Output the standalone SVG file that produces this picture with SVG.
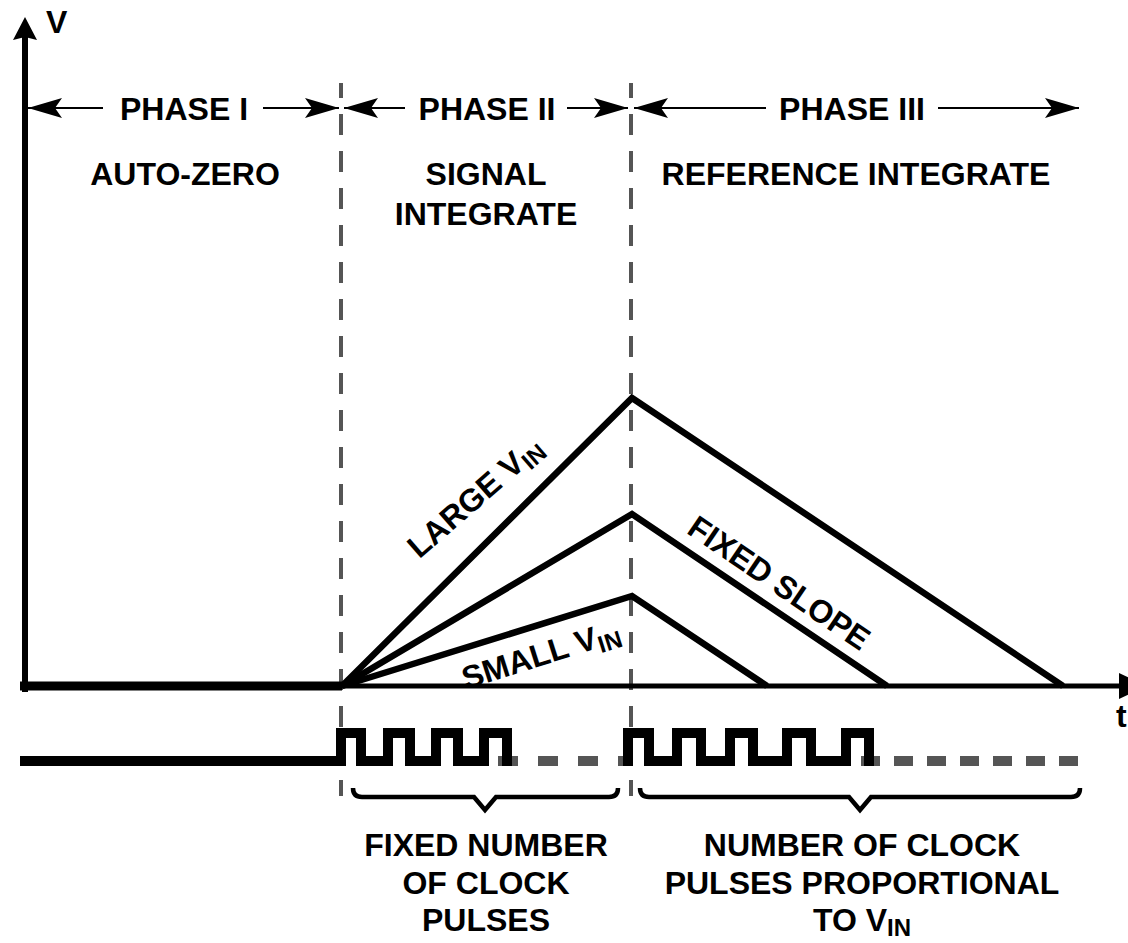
<svg xmlns="http://www.w3.org/2000/svg" width="1128" height="943" viewBox="0 0 1128 943">
<style>
text{font-family:"Liberation Sans",Arial,sans-serif;font-weight:bold;fill:#000;font-size:32px}
.sub{font-size:24px}
.dash{stroke:#555;stroke-width:4;stroke-dasharray:21 16;stroke-dashoffset:6;fill:none}
.wave{stroke:#000;stroke-width:6.5;fill:none;stroke-linejoin:miter}
.clk{stroke:#000;stroke-width:10;fill:none;stroke-linejoin:miter}
.clkg{stroke:#555;stroke-width:10;fill:none}
.pa{stroke:#000;stroke-width:2;fill:none}
.brace{stroke:#000;stroke-width:4.5;fill:none;stroke-linejoin:miter}
</style>
<defs>
<marker id="ah" viewBox="-35 -11 36 22" refX="0" refY="0" markerWidth="36" markerHeight="22" markerUnits="userSpaceOnUse" orient="auto-start-reverse">
<path d="M0,0 L-34,-10 L-27,0 L-34,10 Z" fill="#000"/>
</marker>
</defs>
<rect width="1128" height="943" fill="#fff"/>

<g id="phase-dividers">
<line class="dash" x1="341" y1="83" x2="341" y2="796"/>
<line class="dash" x1="631" y1="83" x2="631" y2="796"/>
</g>

<g id="axes">
<line x1="25" y1="34" x2="25" y2="692" stroke="#000" stroke-width="6"/>
<path d="M25,17 L13,40 L25,37 L37,40 Z" fill="#000"/>
<line x1="20" y1="686" x2="342" y2="686" stroke="#000" stroke-width="9"/>
<line x1="340" y1="686" x2="1122" y2="686" stroke="#000" stroke-width="5"/>
<path d="M1119,673 L1146,686 L1119,699 Z" fill="#000"/>
<text x="46" y="33" font-size="30">V</text>
<text x="1116" y="727" font-size="28">t</text>
</g>

<g id="connectors">
<line class="pa" x1="28" y1="108" x2="103" y2="108" marker-start="url(#ah)"/>
<line class="pa" x1="263" y1="108" x2="339" y2="108" marker-end="url(#ah)"/>
<line class="pa" x1="344" y1="108" x2="405" y2="108" marker-start="url(#ah)"/>
<line class="pa" x1="567" y1="108" x2="628" y2="108" marker-end="url(#ah)"/>
<line class="pa" x1="634" y1="108" x2="766" y2="108" marker-start="url(#ah)"/>
<line class="pa" x1="938" y1="108" x2="1079" y2="108" marker-end="url(#ah)"/>
</g>

<g id="phase1">
<text x="184" y="120" text-anchor="middle">PHASE I</text>
<text x="185" y="185" text-anchor="middle">AUTO-ZERO</text>
</g>
<g id="phase2">
<text x="487" y="120" text-anchor="middle">PHASE II</text>
<text x="486" y="185" text-anchor="middle">SIGNAL</text>
<text x="486" y="225" text-anchor="middle">INTEGRATE</text>
</g>
<g id="phase3">
<text x="852" y="120" text-anchor="middle">PHASE III</text>
<text x="856" y="185" text-anchor="middle">REFERENCE INTEGRATE</text>
</g>

<g id="integrator-ramps">
<path class="wave" d="M342,686 L632,398 L1063,686"/>
<path class="wave" d="M342,686 L632,514 L887,686"/>
<path class="wave" d="M342,686 L632,596 L767,686"/>
</g>

<g id="ramp-labels">
<text transform="translate(482,505) rotate(-41)" text-anchor="middle">LARGE V<tspan class="sub" dy="6">IN</tspan></text>
<text transform="translate(544,665) rotate(-17.6)" text-anchor="middle">SMALL V<tspan class="sub" dy="6">IN</tspan></text>
<text transform="translate(773,592) rotate(34.2)" text-anchor="middle">FIXED SLOPE</text>
</g>

<g id="clock">
<line class="clkg" x1="498" y1="761" x2="627" y2="761" stroke-dasharray="20 20"/>
<line class="clkg" x1="861" y1="761" x2="1078" y2="761" stroke-dasharray="19 14"/>
<path class="clk" d="M20,761 L341,761 L341,733 L361,733 L361,761 L388,761 L388,733 L410,733 L410,761 L436,761 L436,733 L458,733 L458,761 L484,761 L484,733 L507,733 L507,761 L512,761"/>
<path class="clk" d="M623,761 L628,761 L628,733 L649,733 L649,761 L677,761 L677,733 L701,733 L701,761 L730,761 L730,733 L753,733 L753,761 L787,761 L787,733 L811,733 L811,761 L846,761 L846,733 L869,733 L869,761 L874,761"/>
</g>

<g id="brace-fixed">
<path class="brace" d="M353,788 Q353,797 362,797 L474,797 L485,810 L496,797 L609,797 Q618,797 618,788"/>
<text x="486" y="856" text-anchor="middle">FIXED NUMBER</text>
<text x="486" y="894" text-anchor="middle">OF CLOCK</text>
<text x="486" y="931" text-anchor="middle">PULSES</text>
</g>
<g id="brace-proportional">
<path class="brace" d="M640,788 Q640,797 649,797 L849,797 L860,810 L871,797 L1071,797 Q1080,797 1080,788"/>
<text x="862" y="856" text-anchor="middle">NUMBER OF CLOCK</text>
<text x="862" y="894" text-anchor="middle">PULSES PROPORTIONAL</text>
<text x="862" y="931" text-anchor="middle">TO V<tspan class="sub" dy="5">IN</tspan></text>
</g>
</svg>
